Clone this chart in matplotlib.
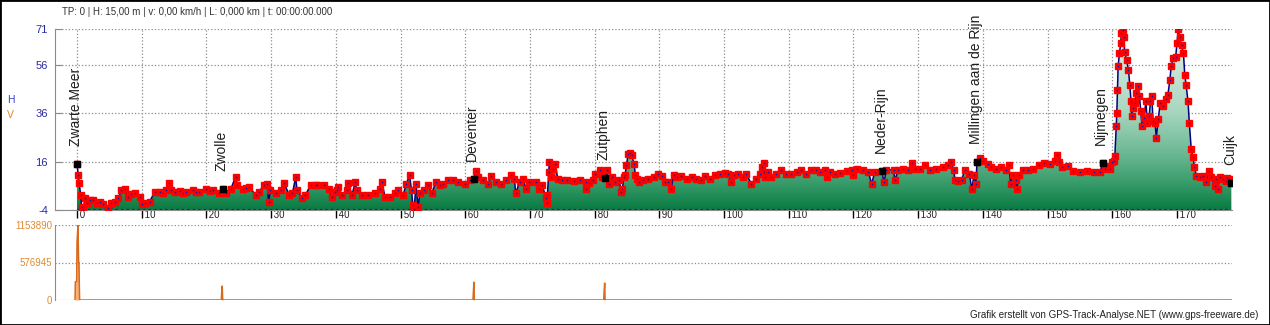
import numpy as np
import matplotlib
matplotlib.use('Agg')
import matplotlib.pyplot as plt
from matplotlib.colors import LinearSegmentedColormap
from matplotlib.patches import Rectangle

plt.rcParams['font.family'] = ['Liberation Sans', 'DejaVu Sans']

# Elevation profile (km, m)
dist_km = [0, 0.2, 0.36, 0.56, 0.72, 0.97, 1.23, 1.49, 2.0, 2.51, 3.03, 3.6, 4.05, 4.82, 5.33,
           5.85, 6.36, 6.87, 7.38, 7.9, 8.4, 8.92, 9.69, 10.1, 10.46, 11.23, 12.0, 12.77, 13.3,
           13.8, 14.2, 14.56, 15.08, 15.85, 16.4, 16.87, 17.9, 18.4, 18.92, 19.95, 20.5, 20.97,
           22.0, 22.5, 23.0, 23.8, 24.5, 24.8, 25.6, 26.1, 26.6, 27.6, 28.1, 28.9, 29.4, 29.6,
           29.9, 30.7, 31.5, 32.0, 32.8, 33.3, 33.8, 34.0, 34.8, 35.3, 36.1, 36.9,
           37.1, 38.1, 38.9, 39.4, 39.9, 40.15, 40.4, 40.9, 41.7, 41.9, 42.5, 43.0, 43.2, 44.0,
           45.0, 46.1, 46.8, 47.1, 47.6, 48.4, 49.1, 49.6, 50.4, 50.9, 51.4, 51.7, 51.9, 52.1,
           52.4, 52.7, 53.0, 53.7, 54.3, 54.8, 55.5, 56.1, 56.6, 57.3, 58.1, 58.9, 59.9, 60.7,
           61.3, 61.6, 61.9, 62.7, 63.5, 64.0, 64.8, 65.5, 66.3, 67.1, 67.6, 67.8, 68.4, 68.9,
           69.4, 69.9, 70.9, 71.4, 71.9, 72.5, 72.6, 72.7, 72.9, 73.0, 73.2, 73.5, 73.9, 74.3,
           75.0, 75.8,
           76.8, 77.8, 78.6, 78.7, 79.1, 79.8, 80.1, 80.9, 81.2, 81.6, 81.9, 82.2, 82.7, 83.2,
           83.8, 84.1, 84.3, 84.5, 84.7, 84.9, 85.2, 85.5, 85.7, 86.1, 86.3, 86.5, 86.8, 87.5,
           88.3, 89.1, 89.8, 90.4, 90.9, 91.4, 91.8, 92.2, 92.7, 93.4, 94.2, 95.0, 95.7, 96.5,
           97.0, 97.8, 98.6, 99.3, 100.1, 100.6, 101.1, 101.6, 102.2, 102.9, 103.4, 104.2,
           105.0, 105.5, 105.8, 106.1, 106.4, 106.8, 107.3, 108.1, 108.8, 109.6, 110.4, 111.2,
           111.9, 112.7, 113.4, 114.2,
           114.9, 115.6, 115.9, 116.4, 117.2, 117.9, 119.0, 119.7, 120.0, 120.5, 121.5, 122.3,
           122.8, 123.3, 124.4, 124.7, 125.1, 126.2, 126.4, 126.9, 127.7, 128.5, 129.1, 129.5,
           130.3, 131.0, 131.8, 132.8, 133.8, 134.6, 135.1, 135.5, 135.7, 136.2, 136.7, 137.2,
           137.9, 138.3, 138.6, 138.9, 139.1, 139.5, 140.0, 140.8, 141.3, 142.1, 142.8, 143.6,
           144.0, 144.3, 144.6, 145.1, 145.2, 145.6, 146.2, 146.9, 147.7, 148.7, 149.5, 150.3,
           151.2, 151.4, 151.8, 152.3, 153.1,
           154.0, 155.0, 156.1, 157.1, 158.1, 158.5, 158.9, 159.1, 159.6, 159.9, 160.2, 160.4,
           160.6, 160.7, 160.8, 160.9, 161.1, 161.3, 161.4, 161.6, 161.8, 161.9, 162.2, 162.5,
           162.7, 162.9, 163.0, 163.2, 163.5, 163.7, 163.9, 164.2, 164.4, 164.6, 164.9, 165.2,
           165.4, 165.7, 165.9, 166.1, 166.3, 166.6, 166.8, 167.1, 167.4, 167.8, 168.3, 168.6,
           168.9, 169.1, 169.4, 169.8, 170.0, 170.2, 170.4, 170.7, 171.0, 171.2, 171.4, 171.7,
           171.9, 172.2, 172.5, 172.7, 173.0, 173.5, 174.0, 174.5, 175.0, 175.3, 175.8, 176.1,
           176.3, 176.6, 177.1, 177.6, 177.8, 178.1, 178.4]
elev_m = [15, 10.4, 7.0, 2.2, -2.6, -4.0, 0.8, -1.2, 0.1, 0.1, -0.9, -0.6, -1.6, -3.3, -0.9,
          -0.5, 0.8, 4.2, 4.9, 1.5, 2.5, 2.9, 1.5, -1.5, -1.2, -0.5, 3.5, 3.5, 3.0,
          4.2, 7.2, 4.2, 3.5, 3.9, 3.2, 3.5, 4.2, 3.6, 3.5, 4.9, 4.0, 4.2,
          3.1, 4.5, 2.9, 4.9, 9.7, 6.3, 4.9, 5.2, 5.6, 2.2, 3.5, 6.3, 6.9, -0.5,
          4.2, 2.9, 4.2, 7.2, 2.2, 3.0, 9.7, 4.2, 0.8, 2.2, 6.3, 6.3,
          6.3, 6.3, 4.9, 1.5, 3.5, 4.2, 5.6, 2.2, 4.2, 7.2, 2.2, 7.6, 4.2, 2.2,
          2.2, 3.1, 4.5, 7.6, 1.5, 1.2, 2.9, 4.2, 2.2, 6.9, 10.4, 4.2, -1.9, -3.7,
          6.9, -2.6, 2.9, 4.2, 6.3, 2.9, 7.6, 6.3, 6.9, 8.3, 8.3, 7.6, 6.9, 8.6,
          9.0, 12.2, 9.7, 8.3, 6.9, 10.0, 7.6, 6.9, 8.3, 10.4, 9.0, 2.9, 7.6, 9.0,
          4.9, 7.6, 7.6, 4.9, 6.3, 0.8, -1.2, 2.2, 11.8, 15.9, 9.7, 13.1, 15.2, 9.0,
          8.3, 8.3,
          8.1, 8.3, 7.6, 4.9, 7.2, 8.3, 11.1, 12.7, 9.7, 9.4, 12.7, 6.9, 9.7, 7.6,
          8.3, 3.5, 4.9, 9.7, 10.4, 14.5, 19.3, 19.6, 18.6, 15.2, 10.4, 9.0, 7.6, 8.3,
          9.0, 9.7, 11.1, 10.0, 7.6, 7.6, 4.5, 10.4, 9.7, 10.0, 9.0, 9.7, 9.0, 8.6,
          10.0, 9.0, 10.4, 11.1, 11.4, 11.1, 7.6, 10.4, 10.8, 9.7, 11.1, 6.9,
          9.0, 11.1, 13.8, 15.5, 9.7, 11.8, 9.7, 11.1, 12.5, 11.1, 11.1, 11.8,
          12.5, 11.1, 12.5, 12.7,
          11.8, 12.5, 9.7, 11.8, 11.1, 11.4, 12.2, 12.5, 10.4, 13.1, 12.5, 11.8,
          6.9, 11.8, 12.2, 7.6, 12.5, 12.7, 8.3, 12.5, 13.1, 12.5, 15.5, 13.1,
          13.1, 14.5, 12.5, 13.1, 13.8, 14.5, 15.9, 12.5, 8.3, 8.1, 8.3, 12.5,
          11.1, 4.5, 10.4, 6.9, 15.9, 17.6, 16.5, 15.2, 13.8, 13.1, 13.8, 12.5,
          14.5, 6.9, 10.4, 8.3, 4.5, 10.4, 12.7, 12.5, 13.1, 14.5, 15.5, 15.2,
          16.5, 18.6, 15.9, 13.8, 14.1,
          12.3, 11.6, 12.3, 11.9, 11.6, 15.5, 13.0, 14.4, 13.0, 15.7, 16.4, 18.5,
          30.8, 36.3, 45.9, 55.5, 60.9, 65.0, 69.2, 70.5, 67.8, 61.6, 58.2, 54.1,
          47.9, 41.1, 34.9, 38.3, 40.4, 44.5, 47.2, 43.1, 37.0, 30.8, 34.2, 41.1,
          32.2, 34.9, 41.1, 43.1, 32.8, 32.2, 26.0, 33.5, 40.4, 39.0, 41.8, 43.8,
          50.0, 55.5, 58.9, 59.6, 65.0, 70.8, 67.8, 64.4, 60.9, 52.0, 47.9, 41.1,
          32.2, 21.2, 17.8, 13.7, 10.2, 9.6, 10.2, 7.5, 12.3, 9.6, 6.1, 8.9,
          4.8, 9.6, 8.9, 8.2, 9.2, 8.9, 7.2]

# Waypoints
wp_names = ['Zwarte Meer', 'Zwolle', 'Deventer', 'Zutphen', 'Neder-Rijn',
            'Millingen aan de Rijn', 'Nijmegen', 'Cuijk']
wp_km = [0, 22.5, 61.3, 81.6, 124.4, 139.1, 158.5, 178.4]
wp_h = [15, 4.5, 9.0, 9.4, 12.2, 15.9, 15.5, 7.2]

# Speed panel (spikes only)
v_km = [-0.3, -0.25, -0.05, 0.0, 0.15, 0.25, 0.3, 0.4, 22.3, 22.35, 22.45, 22.5, 22.55,
        61.2, 61.25, 61.35, 61.4, 81.4, 81.45, 81.55, 81.6, 178.4]
v_val = [0, 280000, 280000, 880000, 1153890, 577000, 577000, 0, 0, 92000, 215000, 30000, 0,
         0, 110000, 275000, 0, 0, 100000, 260000, 0, 0]

elev_ticks = [-4, 16, 36, 56, 71]
v_ticks = [0, 576945, 1153890]
km_ticks = list(range(0, 171, 10))

header = 'TP: 0 | H: 15,00 m | v: 0,00 km/h | L: 0,000 km | t: 00:00:00.000'
footer = 'Grafik erstellt von GPS-Track-Analyse.NET (www.gps-freeware.de)'

blue_txt = '#2a2a9a'
orange_txt = '#e08a2e'
grid_col = '#8c8c8c'

fig = plt.figure(figsize=(12.7, 3.25), dpi=100)
fig.patch.set_facecolor('white')

W, H = 1270, 325
xlim = (-3.4, 178.5)

# ---- elevation panel ----
ax = fig.add_axes([55 / W, (H - 210) / H, (1232 - 55) / W, (210 - 29) / H])
ax.set_xlim(*xlim)
ax.set_ylim(elev_ticks[0], elev_ticks[-1])

cmap = LinearSegmentedColormap.from_list('elev', [
    (0.0, '#097a42'), (0.12, '#2f9663'), (0.3, '#68b791'),
    (0.55, '#a9d7c0'), (1.0, '#e2f3ea')])
grad = np.linspace(0, 1, 256).reshape(-1, 1)
im = ax.imshow(grad, cmap=cmap, origin='lower', aspect='auto',
               extent=[dist_km[0], dist_km[-1], elev_ticks[0], elev_ticks[-1]], zorder=1)
poly = ax.fill_between(dist_km, elev_m, elev_ticks[0], color='none', lw=0)
im.set_clip_path(poly.get_paths()[0], transform=ax.transData)

ax.hlines(elev_ticks[0], dist_km[0], dist_km[-1], colors='#1a1a8c', linestyles=':', lw=1.5, zorder=4)
ax.plot(dist_km, elev_m, color='#000080', lw=1.1, zorder=3)
ax.plot(dist_km, elev_m, ls='none', marker='s', ms=4.0, mfc='#ff0000', mec='#ff0000', zorder=4)
ax.plot(dist_km, elev_m, ls='none', marker='o', ms=1.2, mfc='#1a1aa0', mec='none', zorder=5)

ax.plot(wp_km, wp_h, ls='none', marker='s', ms=4.5, mfc='black', mec='black', zorder=6)
for name, xk, yh in zip(wp_names, wp_km, wp_h):
    ax.annotate(name, (xk, yh), xytext=(-1, 13), textcoords='offset points',
                rotation=90, ha='center', va='bottom', fontsize=10, color='#1e1e1e',
                annotation_clip=False, zorder=7)

ax.set_yticks(elev_ticks)
ax.set_yticklabels([str(t) for t in elev_ticks])
ax.set_xticks(km_ticks)
ax.set_xticklabels([' ' + str(t) for t in km_ticks])
plt.setp(ax.get_xticklabels(), ha='left')
ax.tick_params(axis='y', direction='in', length=5, color=grid_col, labelsize=8,
               labelcolor=blue_txt, pad=5)
ax.tick_params(axis='x', direction='out', length=6, width=1, color='black',
               labelsize=7, labelcolor='#222222', pad=-6)
ax.grid(True, color=grid_col, ls=':', lw=0.9)
ax.set_axisbelow(True)
for s in ('top', 'right'):
    ax.spines[s].set_visible(False)
for s in ('left', 'bottom'):
    ax.spines[s].set_color(grid_col)

# ---- speed panel ----
ax2 = fig.add_axes([55 / W, (H - 300) / H, (1232 - 55) / W, (300 - 225) / H])
ax2.set_xlim(*xlim)
ax2.set_ylim(v_ticks[0], v_ticks[-1])
ax2.fill_between(v_km, v_val, 0, color='#f6b47a', lw=0, zorder=2)
ax2.plot(v_km, v_val, color='#d9691c', lw=1.1, zorder=3)
ax2.set_yticks(v_ticks)
ax2.set_yticklabels([str(t) for t in v_ticks])
ax2.set_xticks([])
ax2.tick_params(axis='y', direction='in', length=0, labelsize=7,
                labelcolor=orange_txt, pad=2)
ax2.grid(True, axis='y', color=grid_col, ls=':', lw=0.9)
ax2.set_axisbelow(True)
for s in ('top', 'right', 'bottom'):
    ax2.spines[s].set_visible(False)
ax2.spines['left'].set_color(grid_col)

# ---- texts ----
fig.text(62 / W, 1 - 12 / H, header, fontsize=7, color='#333333', va='center', ha='left')
fig.text(1258 / W, 1 - 315 / H, footer, fontsize=7, color='#222222', va='center', ha='right')
fig.text(7 / W, 1 - 100 / H, 'H', fontsize=7.5, color='#3a3ad0', va='center', ha='left')
fig.text(7 / W, 1 - 115 / H, 'V', fontsize=7.5, color=orange_txt, va='center', ha='left')

fig.patches.append(Rectangle((0, 0), 1, 1, transform=fig.transFigure, fill=False,
                             ec='black', lw=2, zorder=10))

fig.savefig('out.png', dpi=100)
